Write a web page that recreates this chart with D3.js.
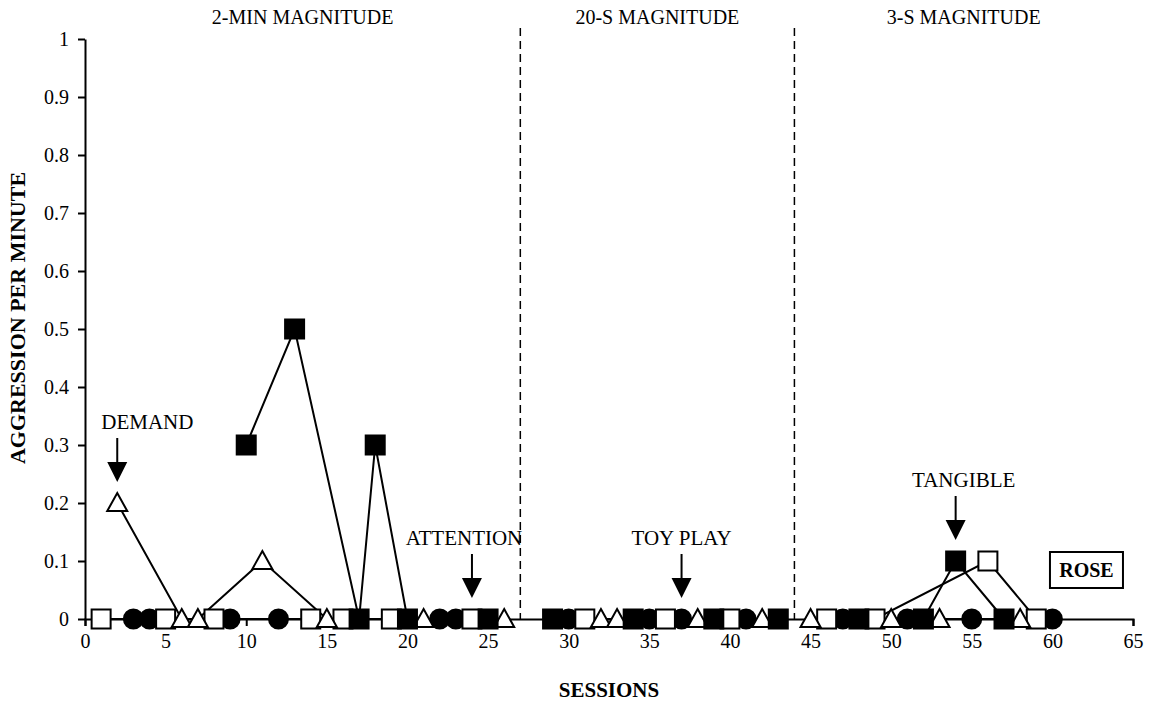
<!DOCTYPE html>
<html lang="en">

<head>
    <meta charset="utf-8">
    <title>Aggression per minute - Rose</title>
    <script type="text/javascript" src="https://cdn.jsdelivr.net/npm/d3@7"></script>
    <style type="text/css">
    body {
        margin: 0;
        background: white;
    }

    svg text {
        font-family: "Liberation Serif", "Times New Roman", serif;
        fill: black;
    }

    .axis path,
    .axis line {
        stroke: black;
        stroke-width: 2px;
    }

    .axis text {
        font-size: 20px;
    }

    .dataLine {
        fill: none;
        stroke: black;
        stroke-width: 2px;
    }

    .phaseLine {
        stroke: black;
        stroke-width: 1.5px;
        stroke-dasharray: 8, 5;
    }
    </style>
</head>

<body>
    <script type="text/javascript">
    //Data
    var demandSessions = [2, 6, 7, 11, 15, 21, 26, 32, 33, 38, 42, 45, 50, 53, 58];
    var demandRates = [0.2, 0, 0, 0.1, 0, 0, 0, 0, 0, 0, 0, 0, 0, 0, 0];

    var attentionSessions = [1, 5, 8, 14, 16, 19, 24, 31, 36, 40, 46, 49, 56, 59];
    var attentionRates = [0, 0, 0, 0, 0, 0, 0, 0, 0, 0, 0, 0, 0.1, 0];

    var toyPlaySessions = [3, 4, 9, 12, 22, 23, 30, 35, 37, 41, 47, 51, 55, 60];
    var toyPlayRates = [0, 0, 0, 0, 0, 0, 0, 0, 0, 0, 0, 0, 0, 0];

    var tangibleSessions = [10, 13, 17, 18, 20, 25, 29, 34, 39, 43, 48, 52, 54, 57];
    var tangibleRates = [0.3, 0.5, 0, 0.3, 0, 0, 0, 0, 0, 0, 0, 0, 0.1, 0];

    var phaseLabels = ['2-MIN MAGNITUDE', '20-S MAGNITUDE', '3-S MAGNITUDE'];
    var phaseBreaks = [27, 44]; //dashed lines, in sessions

    var xTicks = [0, 5, 10, 15, 20, 25, 30, 35, 40, 45, 50, 55, 60, 65];
    var yTicks = [0, 0.1, 0.2, 0.3, 0.4, 0.5, 0.6, 0.7, 0.8, 0.9, 1];

    var annotationLabels = ['DEMAND', 'ATTENTION', 'TOY PLAY', 'TANGIBLE'];
    var annotationSessions = [2, 24, 37, 54];
    var annotationRates = [0.2, 0, 0, 0.1];

    var participant = 'ROSE';

    //Layout
    var w = 1153,
        h = 709;
    var margin = { top: 39, right: 20, bottom: 90, left: 85 };

    var x = d3.scaleLinear()
        .domain([0, 65])
        .range([margin.left, 1133]);

    var y = d3.scaleLinear()
        .domain([0, 1])
        .range([619, margin.top]);

    var svg = d3.select('body')
        .append('svg')
        .attr('width', w)
        .attr('height', h);

    //axes
    var xAxis = d3.axisBottom(x)
        .tickValues(xTicks)
        .tickFormat(d3.format('d'))
        .tickSize(7)
        .tickSizeOuter(7)
        .tickPadding(8);

    var yAxis = d3.axisLeft(y)
        .tickValues(yTicks)
        .tickFormat(function(d) { return d === 0 || d === 1 ? String(d) : d3.format('.1f')(d); })
        .tickSize(7)
        .tickSizeOuter(0)
        .tickPadding(9);

    svg.append('g')
        .attr('class', 'axis')
        .attr('transform', 'translate(0,' + y(0) + ')')
        .call(xAxis);

    svg.append('g')
        .attr('class', 'axis')
        .attr('transform', 'translate(' + x(0) + ',0)')
        .call(yAxis);

    //axis titles
    svg.append('text')
        .attr('x', (x(0) + x(65)) / 2)
        .attr('y', 697)
        .attr('text-anchor', 'middle')
        .style('font-size', '21px')
        .style('font-weight', 'bold')
        .text('SESSIONS');

    svg.append('text')
        .attr('transform', 'translate(25,' + 318 + ') rotate(-90)')
        .attr('text-anchor', 'middle')
        .style('font-size', '22px')
        .style('font-weight', 'bold')
        .text('AGGRESSION PER MINUTE');

    //phase change lines
    svg.selectAll('.phaseLine')
        .data(phaseBreaks)
        .enter()
        .append('line')
        .attr('class', 'phaseLine')
        .attr('x1', function(d) { return x(d); })
        .attr('x2', function(d) { return x(d); })
        .attr('y1', 28)
        .attr('y2', y(0));

    //phase labels, centred in each phase
    var phaseEdges = [0].concat(phaseBreaks).concat([65]);
    svg.selectAll('.phaseLabel')
        .data(phaseLabels)
        .enter()
        .append('text')
        .attr('class', 'phaseLabel')
        .attr('x', function(d, i) { return (x(phaseEdges[i]) + x(phaseEdges[i + 1])) / 2; })
        .attr('y', 24)
        .attr('text-anchor', 'middle')
        .style('font-size', '20px')
        .text(function(d) { return d; });

    //series
    function toPoints(sessions, rates) {
        return sessions.map(function(s, i) { return { session: s, rate: rates[i] }; });
    }

    //split each series at the phase lines
    function splitPhases(points) {
        return phaseEdges.slice(1).map(function(edge, i) {
            return points.filter(function(p) { return p.session > phaseEdges[i] && p.session < edge; });
        });
    }

    var series = [
        { name: 'toyPlay', shape: 'circle', fill: 'black', points: toPoints(toyPlaySessions, toyPlayRates) },
        { name: 'attention', shape: 'square', fill: 'white', points: toPoints(attentionSessions, attentionRates) },
        { name: 'demand', shape: 'triangle', fill: 'white', points: toPoints(demandSessions, demandRates) },
        { name: 'tangible', shape: 'square', fill: 'black', points: toPoints(tangibleSessions, tangibleRates) }
    ];

    var line = d3.line()
        .x(function(d) { return x(d.session); })
        .y(function(d) { return y(d.rate); });

    series.forEach(function(s) {
        svg.append('g')
            .selectAll('path')
            .data(splitPhases(s.points))
            .enter()
            .append('path')
            .attr('class', 'dataLine')
            .attr('d', line);
    });

    var symbols = {
        circle: function(g) {
            g.append('circle').attr('r', 9.5);
        },
        square: function(g) {
            g.append('rect').attr('x', -9.5).attr('y', -9.5).attr('width', 19).attr('height', 19);
        },
        triangle: function(g) {
            g.append('path').attr('d', 'M0,-10L10,8L-10,8Z');
        }
    };

    series.forEach(function(s) {
        var marks = svg.append('g')
            .selectAll('g')
            .data(s.points)
            .enter()
            .append('g')
            .attr('transform', function(d) { return 'translate(' + x(d.session) + ',' + y(d.rate) + ')'; });
        symbols[s.shape](marks);
        marks.selectAll('*')
            .style('fill', s.fill)
            .style('stroke', 'black')
            .style('stroke-width', '2px');
    });

    //condition arrows
    var labelShift = [-16, -8, 0, 8]; //horizontal nudge of each label, px
    var annotations = svg.selectAll('.annotation')
        .data(annotationLabels)
        .enter()
        .append('g')
        .attr('class', 'annotation')
        .attr('transform', function(d, i) {
            return 'translate(' + x(annotationSessions[i]) + ',' + (y(annotationRates[i]) - 21) + ')';
        });

    annotations.append('line')
        .attr('x1', 0).attr('x2', 0)
        .attr('y1', -44).attr('y2', -18)
        .style('stroke', 'black')
        .style('stroke-width', '2px');

    annotations.append('path')
        .attr('d', 'M-10,-20L10,-20L0,0Z')
        .style('fill', 'black');

    annotations.append('text')
        .attr('x', function(d, i) { return labelShift[i]; })
        .attr('y', -53)
        .attr('text-anchor', function(d, i) { return i === 0 ? 'start' : 'middle'; })
        .style('font-size', '21px')
        .text(function(d) { return d; });

    //participant box
    var box = svg.append('g')
        .attr('transform', 'translate(' + x(59.85) + ',' + (y(0.1) - 9) + ')');

    box.append('rect')
        .attr('width', 73)
        .attr('height', 36)
        .style('fill', 'white')
        .style('stroke', 'black')
        .style('stroke-width', '2px');

    box.append('text')
        .attr('x', 36.5)
        .attr('y', 25)
        .attr('text-anchor', 'middle')
        .style('font-size', '20px')
        .style('font-weight', 'bold')
        .text(participant);
    </script>
</body>

</html>
